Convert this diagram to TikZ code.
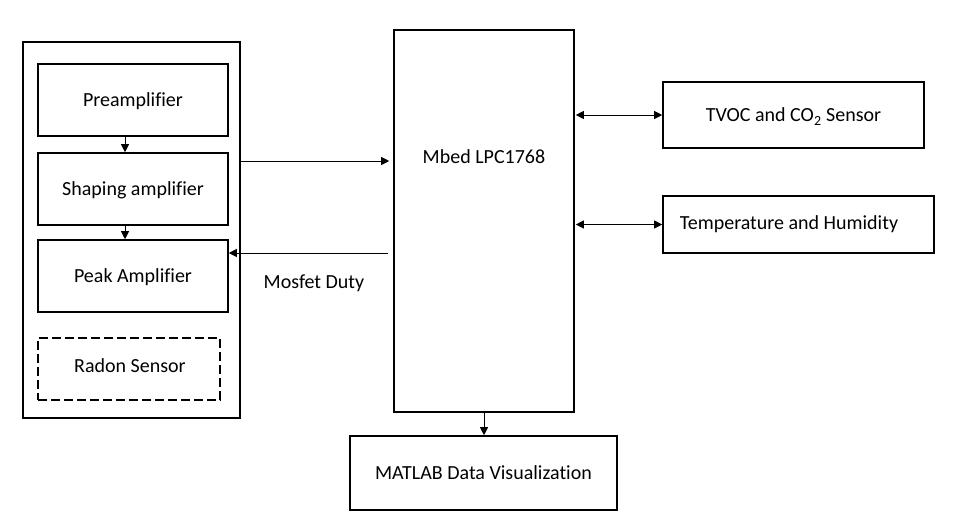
\documentclass[tikz,border=0pt]{standalone}
\usepackage{fontspec}
\setmainfont{Carlito}[Ligatures={NoCommon}]
\usetikzlibrary{arrows.meta}
\begin{document}
\begin{tikzpicture}[x=1pt,y=-1pt,
  box/.style={draw, line width=1.6pt, inner sep=0pt, text depth=0pt, font=\fontsize{20}{24}\selectfont},
  txt/.style={inner sep=0pt, text depth=0pt, font=\fontsize{20}{24}\selectfont},
  arr/.style={line width=0.8pt, -{Triangle[length=8pt,width=8pt]}},
  darr/.style={line width=0.8pt, {Triangle[length=8pt,width=8pt]}-{Triangle[length=8pt,width=8pt]}}]
\useasboundingbox (0,0) rectangle (961,530);
% left group
\node[box, minimum width=217pt, minimum height=376pt] (outer) at (131.5,230) {};
\node[box, minimum width=190pt, minimum height=72pt] (pre) at (133,100) {Preamplifier};
\node[box, minimum width=190pt, minimum height=72pt] (shape) at (133,189) {Shaping amplifier};
\node[box, minimum width=190pt, minimum height=72pt] (peak) at (133,276) {Peak Amplifier};
\node[box, dash pattern=on 9pt off 4pt, minimum width=182pt, minimum height=62pt] (radon) at (129,369) {};
\node[txt] (radontxt) at (130,366) {Radon Sensor};
% mbed
\node[box, minimum width=180pt, minimum height=382pt] (mbed) at (484,221) {};
\node[txt] (mbedtxt) at (484,157) {Mbed LPC1768};
% sensors
\node[box, minimum width=261pt, minimum height=66pt] (tvoc) at (793.5,115) {TVOC and CO\textsubscript{2} Sensor};
\node[box, minimum width=271pt, minimum height=57pt] (temp) at (798.5,224.5) {};
\node[txt] (temptxt) at (789,223) {Temperature and Humidity};
\node[box, minimum width=267pt, minimum height=74pt] (matlab) at (483.5,473) {MATLAB Data Visualization};
\node[txt] (mosfet) at (314,282) {Mosfet Duty};
% connectors
\coordinate (xa) at (125,0);
\coordinate (y1) at (0,161);
\coordinate (y2) at (0,253);
\draw[arr] (xa |- pre.south) -- (xa |- shape.north);
\draw[arr] (xa |- shape.south) -- (xa |- peak.north);
\draw[arr, shorten >=4pt] (outer.east |- y1) -- (mbed.west |- y1);
\draw[arr, shorten <=5pt] (mbed.west |- y2) -- (peak.east |- y2);
\draw[darr, shorten <=1pt] (mbed.east |- tvoc.west) -- (tvoc.west);
\draw[darr, shorten <=1pt] (mbed.east |- temp.west) -- (temp.west);
\draw[arr] (mbed.south) -- (mbed.south |- matlab.north);
\end{tikzpicture}
\end{document}
